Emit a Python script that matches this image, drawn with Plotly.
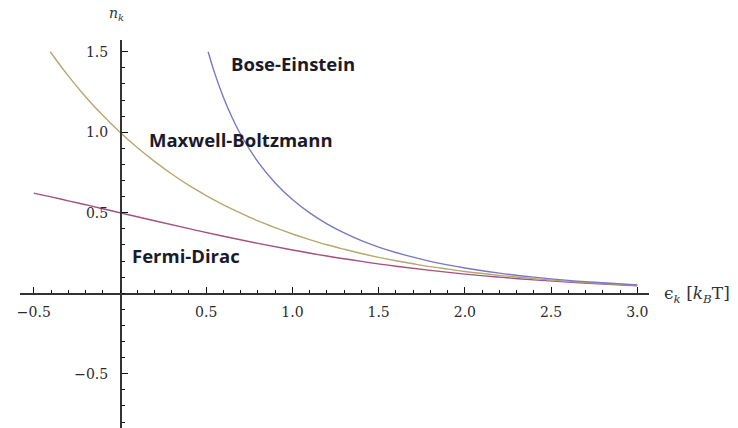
import plotly.graph_objects as go

# ---- data ----
be_x = [0.511, 0.55, 0.6, 0.65, 0.7, 0.8, 0.9, 1.0, 1.1, 1.2, 1.3, 1.4, 1.5, 1.6, 1.7,
        1.8, 1.9, 2.0, 2.2, 2.4, 2.6, 2.8, 3.0]
be_y = [1.500, 1.364, 1.216, 1.092, 0.986, 0.816, 0.685, 0.582, 0.499, 0.431, 0.375,
        0.327, 0.287, 0.253, 0.224, 0.198, 0.176, 0.157, 0.125, 0.100, 0.080, 0.065, 0.052]

mb_x = [-0.405, -0.3, -0.2, -0.1, 0.0, 0.1, 0.2, 0.3, 0.4, 0.5, 0.6, 0.7, 0.8, 0.9, 1.0,
        1.1, 1.2, 1.3, 1.4, 1.5, 1.6, 1.7, 1.8, 1.9, 2.0, 2.2, 2.4, 2.6, 2.8, 3.0]
mb_y = [1.500, 1.350, 1.221, 1.105, 1.000, 0.905, 0.819, 0.741, 0.670, 0.607, 0.549,
        0.497, 0.449, 0.407, 0.368, 0.333, 0.301, 0.273, 0.247, 0.223, 0.202, 0.183,
        0.165, 0.150, 0.135, 0.111, 0.091, 0.074, 0.061, 0.050]

fd_x = [-0.5, -0.4, -0.3, -0.2, -0.1, 0.0, 0.2, 0.4, 0.6, 0.8, 1.0, 1.2, 1.4, 1.6, 1.8,
        2.0, 2.2, 2.4, 2.6, 2.8, 3.0]
fd_y = [0.622, 0.599, 0.574, 0.550, 0.525, 0.500, 0.450, 0.401, 0.354, 0.310, 0.269,
        0.231, 0.198, 0.168, 0.142, 0.119, 0.100, 0.083, 0.069, 0.057, 0.047]

x_tickvals = [-0.5, 0.5, 1.0, 1.5, 2.0, 2.5, 3.0]
x_ticktext = ["\u22120.5", "0.5", "1.0", "1.5", "2.0", "2.5", "3.0"]
y_tickvals = [-0.5, 0.5, 1.0, 1.5]
y_ticktext = ["\u22120.5", "0.5", "1.0", "1.5"]

labels = ["Bose-Einstein", "Maxwell-Boltzmann", "Fermi-Dirac"]
label_pos = [(0.632, 1.424), (0.157, 0.952), (0.058, 0.237)]

# ---- styling ----
X_RANGE = [-0.58, 3.068]
Y_RANGE = [-0.837, 1.573]
colors = {"be": "#7878c4", "mb": "#b3a96f", "fd": "#a5507f"}

fig = go.Figure()
fig.add_trace(go.Scatter(x=fd_x, y=fd_y, mode="lines", line=dict(color=colors["fd"], width=1.4, shape="spline"), hoverinfo="skip"))
fig.add_trace(go.Scatter(x=mb_x, y=mb_y, mode="lines", line=dict(color=colors["mb"], width=1.4, shape="spline"), hoverinfo="skip"))
fig.add_trace(go.Scatter(x=be_x, y=be_y, mode="lines", line=dict(color=colors["be"], width=1.4, shape="spline"), hoverinfo="skip"))

xpos = (0 - Y_RANGE[0]) / (Y_RANGE[1] - Y_RANGE[0])
ypos = (0 - X_RANGE[0]) / (X_RANGE[1] - X_RANGE[0])

tickfont = dict(family="DejaVu Serif", size=14, color="#2a2a2a")
axis_common = dict(showgrid=False, zeroline=False, showline=True, linecolor="#333333",
                   linewidth=1.5, ticks="inside", ticklen=6, tickwidth=1, tickcolor="#111111",
                   anchor="free", tickfont=tickfont,
                   minor=dict(ticks="inside", ticklen=3, tickwidth=1, tickcolor="#111111",
                              tickmode="linear", tick0=0, dtick=0.1, showgrid=False))

fig.update_layout(
    width=738, height=428,
    margin=dict(l=20, r=89, t=40, b=0),
    paper_bgcolor="white", plot_bgcolor="white",
    showlegend=False,
    xaxis=dict(range=X_RANGE, position=xpos, tickmode="array", tickvals=x_tickvals,
               ticktext=x_ticktext, ticklabelstandoff=5, **axis_common),
    yaxis=dict(range=Y_RANGE, position=ypos, tickmode="array", tickvals=y_tickvals,
               ticktext=y_ticktext, ticklabelstandoff=9, **axis_common),
)

for text, (lx, ly) in zip(labels, label_pos):
    fig.add_annotation(x=lx, y=ly, xref="x", yref="y", text="<b>" + text + "</b>",
                       showarrow=False, xanchor="left", yanchor="middle",
                       font=dict(family="Open Sans", size=18.5, color="#1a1a2a"))

fig.add_annotation(x=0.154, y=1.067, xref="paper", yref="paper",
                   text="<i>n</i><sub><i>k</i></sub>", showarrow=False,
                   xanchor="center", yanchor="middle",
                   font=dict(family="DejaVu Serif", size=14, color="#333333"))
fig.add_annotation(x=1.020, y=0.343, xref="paper", yref="paper",
                   text="\u03f5<sub><i>k</i></sub> [<i>k</i><sub><i>B</i></sub>T]", showarrow=False,
                   xanchor="left", yanchor="middle",
                   font=dict(family="DejaVu Serif", size=17, color="#333333"))

fig.write_html("out.html", config={"displayModeBar": False, "staticPlot": True},
               post_script="document.body.style.margin='0';document.body.style.overflow='hidden';")
